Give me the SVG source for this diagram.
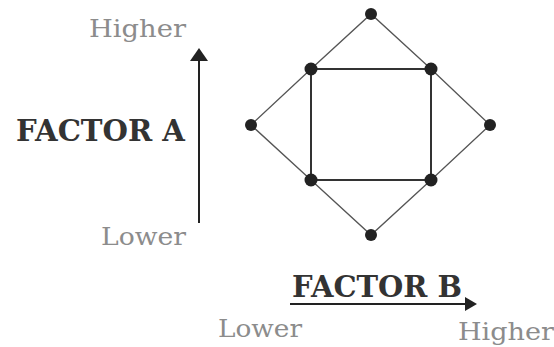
<svg xmlns="http://www.w3.org/2000/svg" width="554" height="347" viewBox="0 0 554 347">
<style>
.lbl{font-family:"DejaVu Serif","Liberation Serif",serif;fill:#8c8c8c;font-size:24px}
.fac{font-family:"DejaVu Serif","Liberation Serif",serif;fill:#333;font-size:29px;font-weight:bold}
.dia{stroke:#555;stroke-width:1.3;fill:none}
.sq{stroke:#333;stroke-width:2;fill:none}
.ax{stroke:#222;stroke-width:2;fill:none}
.node{fill:#222}
</style>
<rect width="554" height="347" fill="#fff"/>
<g id="labels">
<text class="lbl" x="89" y="37" textLength="97" lengthAdjust="spacingAndGlyphs">Higher</text>
<text class="lbl" x="101" y="245" textLength="85" lengthAdjust="spacingAndGlyphs">Lower</text>
<text class="fac" x="16" y="141" textLength="169" lengthAdjust="spacingAndGlyphs">FACTOR A</text>
<text class="fac" x="292" y="297" textLength="170" lengthAdjust="spacingAndGlyphs">FACTOR B</text>
<text class="lbl" x="218" y="337" textLength="84" lengthAdjust="spacingAndGlyphs">Lower</text>
<text class="lbl" x="458" y="340" textLength="96" lengthAdjust="spacingAndGlyphs">Higher</text>
</g>
<g id="axes">
<line class="ax" x1="199" y1="223" x2="199" y2="58"/>
<polygon points="199,48 190,61 208,61" fill="#222"/>
<line class="ax" x1="290" y1="304" x2="466" y2="304"/>
<polygon points="477,304 465,297 465,311" fill="#222"/>
</g>
<g id="connectors">
<polyline class="dia" points="311,69 371,14 431,69"/>
<polyline class="dia" points="431,69 490,125 431,180"/>
<polyline class="dia" points="431,180 371,235 311,180"/>
<polyline class="dia" points="311,180 251,125 311,69"/>
<rect class="sq" x="311" y="69" width="120" height="111"/>
</g>
<g id="n1"><circle class="node" cx="371" cy="14" r="6"/></g>
<g id="n2"><circle class="node" cx="311" cy="69" r="6.5"/></g>
<g id="n3"><circle class="node" cx="431" cy="69" r="6.5"/></g>
<g id="n4"><circle class="node" cx="251" cy="125" r="6"/></g>
<g id="n5"><circle class="node" cx="490" cy="125" r="6"/></g>
<g id="n6"><circle class="node" cx="311" cy="180" r="6.5"/></g>
<g id="n7"><circle class="node" cx="431" cy="180" r="6.5"/></g>
<g id="n8"><circle class="node" cx="371" cy="235" r="6"/></g>
</svg>
